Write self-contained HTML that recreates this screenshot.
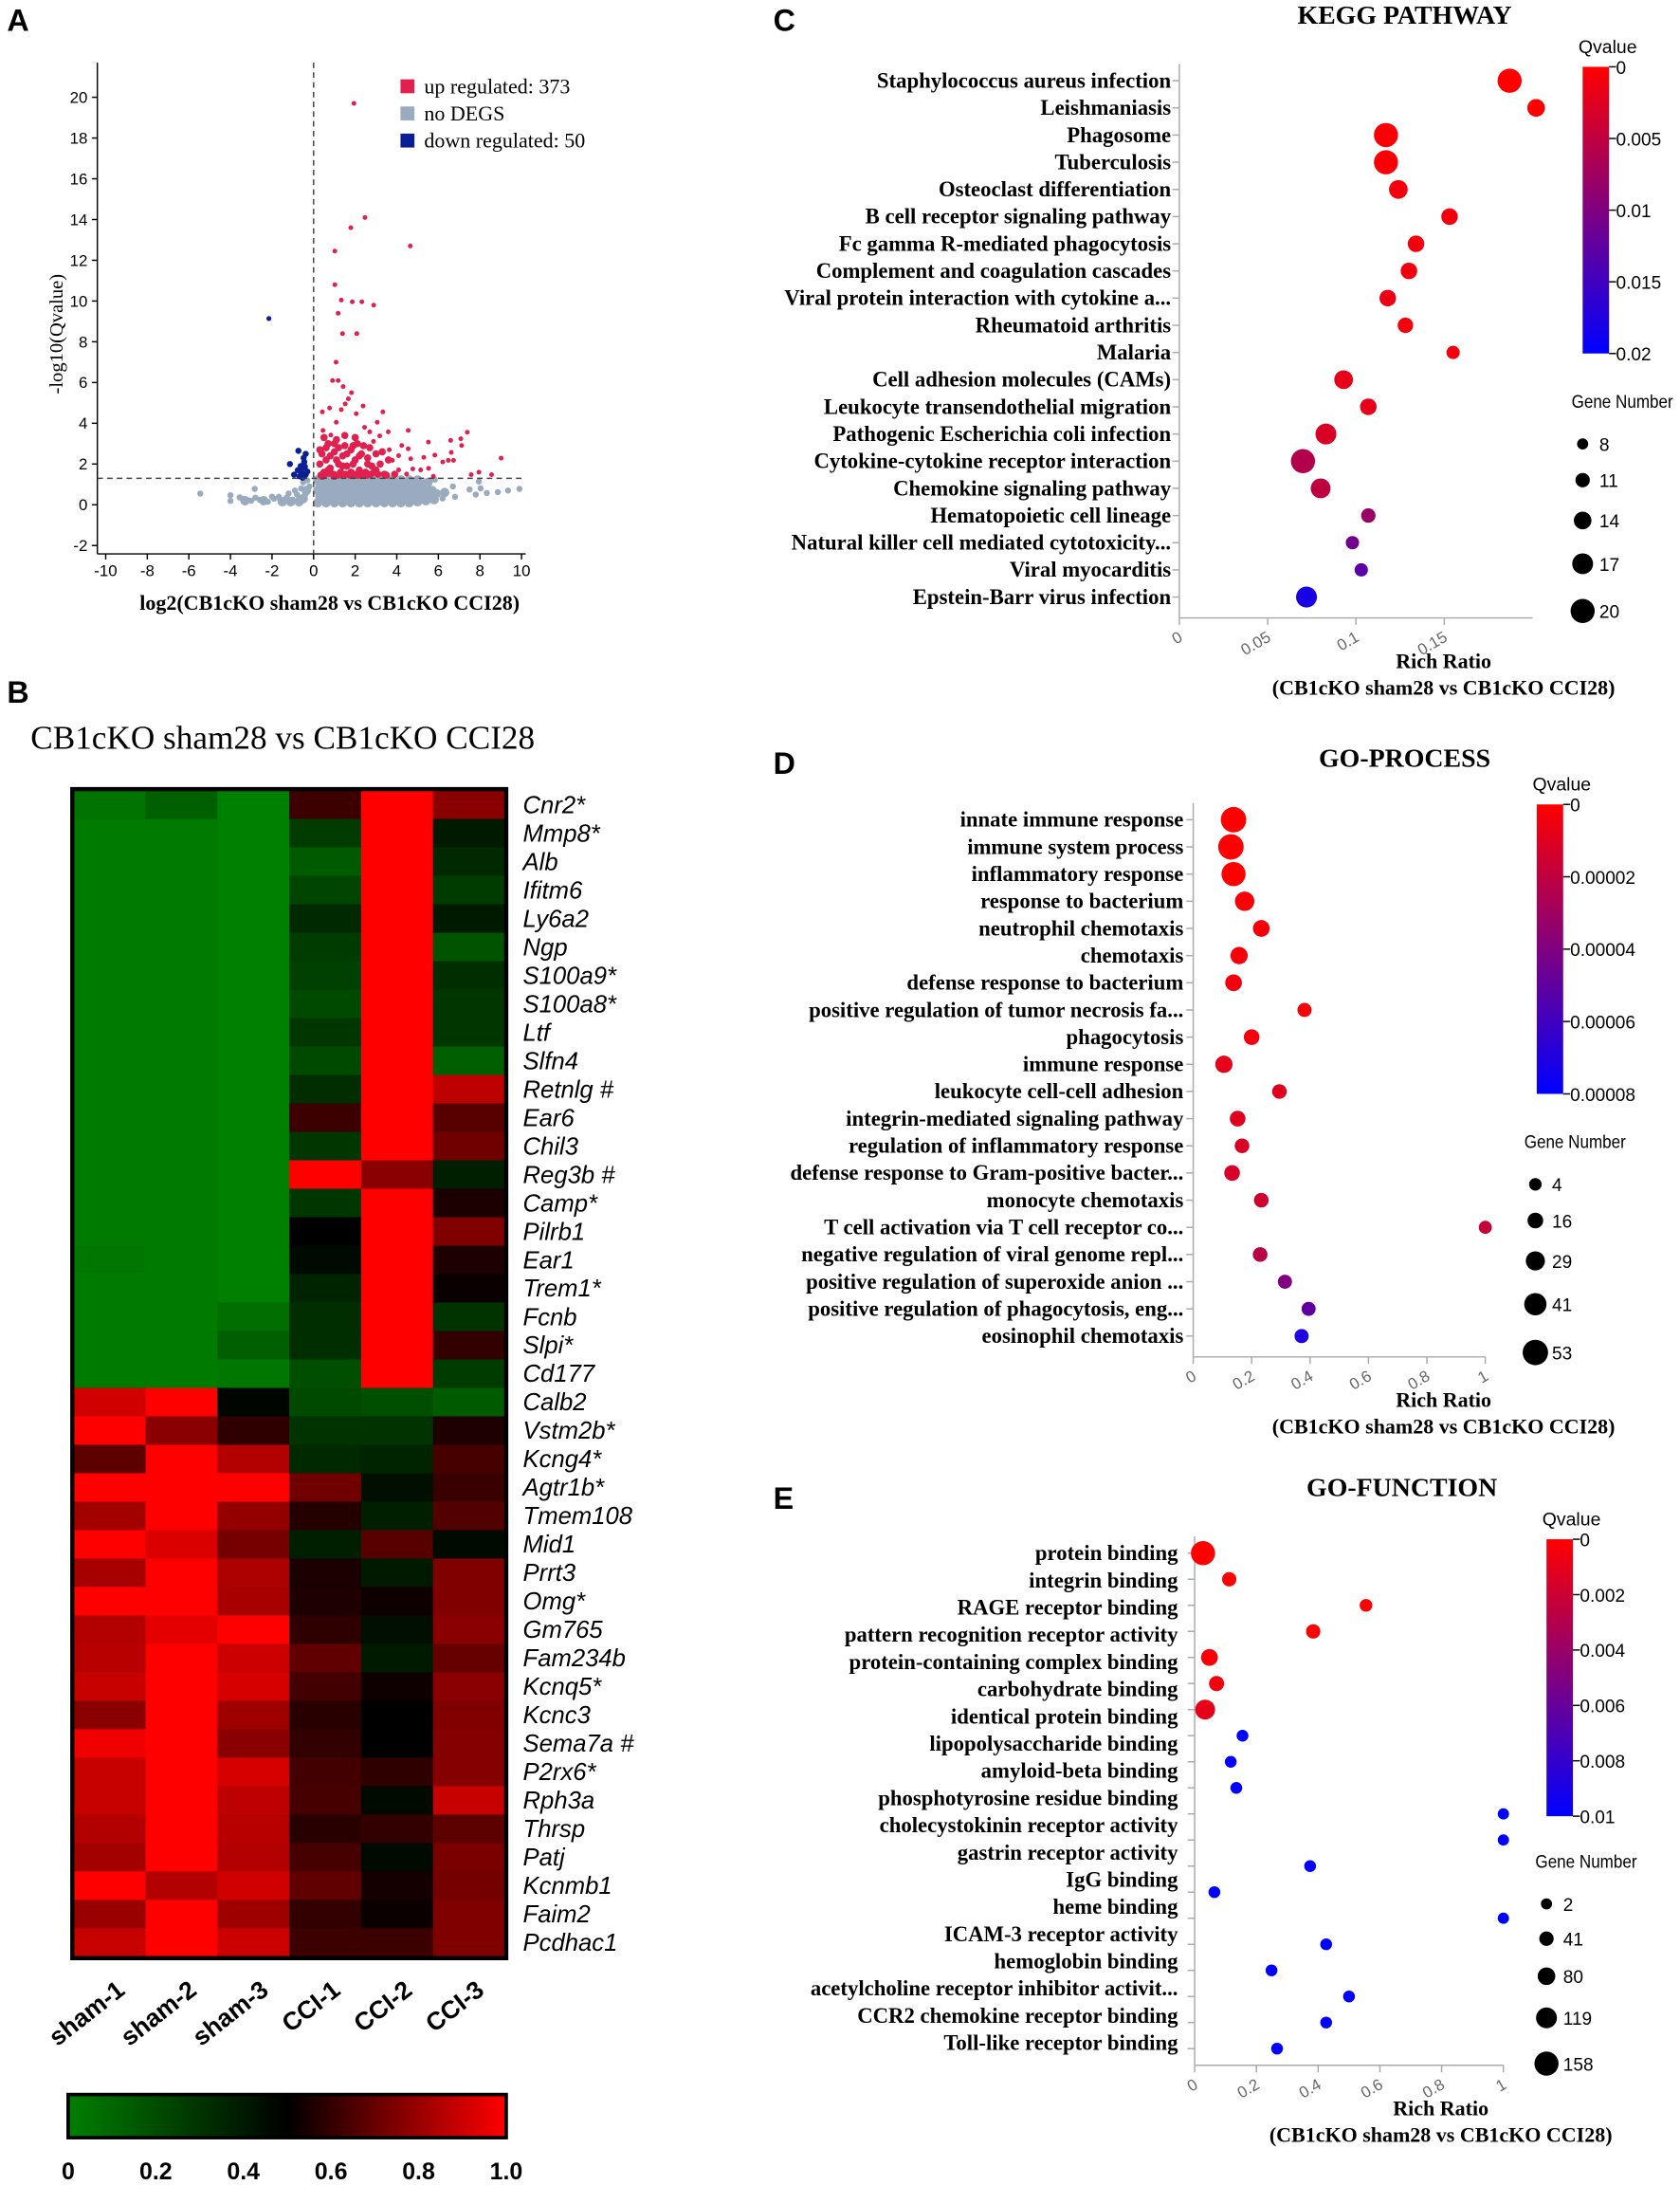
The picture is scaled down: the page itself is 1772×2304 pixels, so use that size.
<!DOCTYPE html>
<html><head><meta charset="utf-8"><style>
html,body{margin:0;padding:0;background:#fff;}
svg{display:block;}
</style></head><body>
<svg id="fig" xmlns="http://www.w3.org/2000/svg" width="1772" height="2304" viewBox="0 0 1208 1570" preserveAspectRatio="none">
<defs>
<linearGradient id="hmgrad" x1="0" x2="1" y1="0" y2="0"><stop offset="0" stop-color="#008000"/><stop offset="0.5" stop-color="#000"/><stop offset="1" stop-color="#ff0000"/></linearGradient>
<linearGradient id="qgrad" x1="0" x2="0" y1="0" y2="1"><stop offset="0" stop-color="#ff0000"/><stop offset="0.5" stop-color="#800080"/><stop offset="1" stop-color="#0000ff"/></linearGradient>
</defs>
<g id="root"></g>
</svg>
<script>
// ===== Panel A volcano data =====
const upX=[1.94,2.47,1.79,4.65,1.02,1.02,1.33,1.86,2.32,2.89,1.18,1.39,2.08,1.08,0.91,1.18,1.42,1.82,1.67,1.52,2.38,3.33,0.42,0.77,1.33,2.05,1.09,3.06,2.45,4.55,7.39,0.45,0.83,2.7,3.59,3.18,7.08,5.52,6.59,2.88,4.24,4.55,3.64,7.12,9.02,6.62,4.09,5.83,5.3,4.67,6.48,3.79,6.73,6.21,5.15,4.77,5.53,5.76,7.58,7.95,8.56,4.47,4.09,0.4,0.6,0.8,1.0,1.2,0.5,0.7,1.4,1.6,1.8,2.0,2.2,2.4,2.6,2.8,3.0,0.3,0.9,1.1,1.3,1.5,1.7,1.9,2.1,2.3,2.5,2.7,2.9,3.2,3.4,0.4,0.6,0.8,1.0,1.2,1.4,1.6,1.8,2.0,2.2,0.5,1.0,1.5,2.6,3.0,3.6,3.3,0.3,0.7,1.1,1.9,0.35,0.55,0.75,0.95,1.15,1.35,1.55,1.75,1.95,2.15,2.35,2.55,2.75,3.1,3.5,3.9];
const upY=[19.7,14.1,13.6,12.7,12.45,10.8,10.05,9.96,9.96,9.8,9.4,8.4,8.4,7.0,6.1,6.1,5.8,5.5,5.2,4.95,4.85,4.56,4.56,4.75,4.67,4.47,4.05,4.05,3.8,3.65,3.56,3.65,3.42,3.58,3.58,3.38,3.24,3.08,3.16,3.11,2.91,2.75,2.7,2.91,2.29,2.57,2.41,2.44,2.33,2.26,2.18,2.18,2.18,2.1,1.71,1.76,1.79,1.4,1.48,1.6,1.48,1.51,1.71,2.5,2.2,1.8,2.6,2.0,1.6,3.0,2.4,1.9,2.7,2.2,1.7,2.9,2.3,1.9,2.5,2.0,1.5,3.2,1.6,2.9,1.5,2.0,3.0,2.5,1.6,2.8,1.6,2.0,1.5,1.4,2.8,2.4,1.4,2.8,1.9,2.5,1.6,3.3,2.4,3.3,3.0,3.4,2.0,1.7,2.2,2.6,2.7,1.7,2.2,2.9,1.45,1.5,1.55,1.5,1.45,1.5,1.5,1.45,1.5,1.45,1.5,1.45,1.5,1.5,1.45,1.5];
const downX=[-2.15,-0.73,-0.38,-1.14,-0.94,-0.53,-0.45,-0.6,-0.38,-0.68,-0.48,-0.3,-0.76,-0.53,-0.42,-0.5,-0.62];
const downY=[9.14,2.65,2.5,2.0,1.48,1.8,2.1,1.63,1.48,1.4,2.3,1.63,1.7,1.33,1.87,1.5,1.9];
const greyX=[-5.45,-4.0,-4.0,-2.83,-3.56,-3.18,-2.27,-1.67,6.7,7.5,7.95,8.03,7.8,8.33,8.86,9.35,9.9,6.2,6.8,5.83,5.3,-3.4,-3.0,-2.6,-2.2,-1.9,-1.6,-1.3,-1.0,-0.8,-0.6,-0.5,-0.3,-0.7,-0.4,-0.2,-0.9,-1.2,-2.0,-2.8,
0.2,0.6,1.0,1.4,1.8,2.2,2.6,3.0,3.4,3.8,4.2,4.6,5.0,5.4,5.8,
0.3,0.7,1.1,1.5,1.9,2.3,2.7,3.1,3.5,3.9,4.3,4.7,5.1,5.5,5.9,6.3,
0.2,0.6,1.0,1.4,1.8,2.2,2.6,3.0,3.4,3.8,4.2,4.6,5.0,5.4,
0.3,0.7,1.1,1.5,1.9,2.3,2.7,3.1,3.5,3.9,4.3,4.7,5.1,5.5,
0.2,0.6,1.0,1.4,1.8,2.2,2.6,3.0,3.4,3.8,4.2,4.6,5.0,
0.4,0.8,1.2,1.6,2.0,2.4,2.8,3.2,3.6,4.0,4.4,4.8,5.2,5.6,
0.4,0.8,1.2,1.6,2.0,2.4,2.8,3.2,3.6,4.0,4.4,4.8,5.2,5.7,
0.4,0.8,1.2,1.6,2.0,2.4,2.8,3.2,3.6,4.0,4.4,4.8,5.3,
-0.5,-0.7,-1.5,-2.4,-3.3,-1.1,-0.35];
const greyY=[0.55,0.47,0.19,0.78,0.36,0.23,0.16,0.39,0.9,0.75,1.14,0.81,0.5,0.58,0.62,0.7,0.78,0.31,0.39,1.23,1.09,0.3,0.2,0.25,0.15,0.3,0.2,0.35,0.25,0.5,0.8,1.1,1.2,0.3,0.5,0.9,0.7,0.55,0.4,0.35,
0.1,0.1,0.1,0.1,0.1,0.1,0.1,0.1,0.1,0.1,0.1,0.1,0.15,0.2,0.25,
0.4,0.4,0.4,0.4,0.4,0.4,0.4,0.4,0.4,0.4,0.4,0.4,0.45,0.5,0.55,0.6,
0.7,0.7,0.7,0.7,0.7,0.7,0.7,0.7,0.7,0.7,0.7,0.7,0.75,0.85,
1.0,1.0,1.0,1.0,1.0,1.0,1.0,1.0,1.0,1.0,1.0,1.0,1.05,1.1,
1.22,1.22,1.22,1.22,1.22,1.22,1.22,1.22,1.22,1.22,1.22,1.22,1.22,
0.25,0.25,0.25,0.25,0.25,0.25,0.25,0.25,0.25,0.25,0.25,0.25,0.3,0.35,
0.55,0.55,0.55,0.55,0.55,0.55,0.55,0.55,0.55,0.55,0.55,0.55,0.6,0.7,
0.85,0.85,0.85,0.85,0.85,0.85,0.85,0.85,0.85,0.85,0.85,0.85,0.9,
0.3,0.15,0.15,0.2,0.2,0.15,0.7];
const volXTicks=[-10,-8,-6,-4,-2,0,2,4,6,8,10];
const volYTicks=[-2,0,2,4,6,8,10,12,14,16,18,20];

// ===== Panel B heatmap data =====
const genes=["Cnr2*","Mmp8*","Alb","Ifitm6","Ly6a2","Ngp","S100a9*","S100a8*","Ltf","Slfn4","Retnlg #","Ear6","Chil3","Reg3b #","Camp*","Pilrb1","Ear1","Trem1*","Fcnb","Slpi*","Cd177","Calb2","Vstm2b*","Kcng4*","Agtr1b*","Tmem108","Mid1","Prrt3","Omg*","Gm765","Fam234b","Kcnq5*","Kcnc3","Sema7a #","P2rx6*","Rph3a","Thrsp","Patj","Kcnmb1","Faim2","Pcdhac1"];
const samples=["sham-1","sham-2","sham-3","CCI-1","CCI-2","CCI-3"];
const sham1=[0.05,0.02,0.02,0.02,0.02,0.02,0.02,0.02,0.02,0.02,0.02,0.02,0.02,0.02,0.02,0.02,0.03,0.02,0.02,0.02,0.02,0.91,1,0.68,1,0.82,1,0.83,1,0.85,0.86,0.89,0.77,0.97,0.89,0.89,0.85,0.82,1,0.8,0.89];
const sham2=[0.13,0.02,0.02,0.02,0.02,0.02,0.02,0.02,0.02,0.02,0.02,0.02,0.02,0.02,0.02,0.02,0.02,0.02,0.02,0.02,0.02,1,0.77,1,1,1,0.93,1,1,0.95,1,1,1,1,1,1,1,1,0.85,1,1];
const sham3=[0,0,0,0,0,0,0,0,0,0,0,0,0,0,0,0,0,0,0.07,0.13,0.03,0.48,0.59,0.85,1,0.79,0.73,0.84,0.83,1,0.9,0.92,0.81,0.77,0.92,0.87,0.86,0.85,0.91,0.81,0.9];
const cci1=[0.62,0.27,0.15,0.23,0.34,0.27,0.25,0.21,0.29,0.21,0.32,0.62,0.29,1,0.29,0.5,0.46,0.36,0.32,0.32,0.19,0.21,0.3,0.34,0.72,0.57,0.38,0.55,0.56,0.59,0.69,0.63,0.58,0.6,0.63,0.64,0.58,0.64,0.69,0.6,0.62];
const cci2=[1,1,1,1,1,1,1,1,1,1,1,1,1,0.77,1,1,1,1,1,1,1,0.19,0.3,0.36,0.44,0.38,0.67,0.4,0.53,0.44,0.4,0.53,0.5,0.5,0.59,0.46,0.6,0.46,0.54,0.52,0.62];
const cci3=[0.77,0.4,0.34,0.27,0.4,0.17,0.32,0.29,0.29,0.13,0.87,0.67,0.72,0.38,0.55,0.75,0.56,0.52,0.3,0.6,0.27,0.15,0.56,0.64,0.61,0.66,0.46,0.75,0.75,0.77,0.7,0.77,0.75,0.76,0.76,0.89,0.68,0.74,0.73,0.75,0.75];
const hmTicks=["0","0.2","0.4","0.6","0.8","1.0"];

// ===== Panel C KEGG =====
const keggTerms=["Staphylococcus aureus infection","Leishmaniasis","Phagosome","Tuberculosis","Osteoclast differentiation","B cell receptor signaling pathway","Fc gamma R-mediated phagocytosis","Complement and coagulation cascades","Viral protein interaction with cytokine a...","Rheumatoid arthritis","Malaria","Cell adhesion molecules (CAMs)","Leukocyte transendothelial migration","Pathogenic Escherichia coli infection","Cytokine-cytokine receptor interaction","Chemokine signaling pathway","Hematopoietic cell lineage","Natural killer cell mediated cytotoxicity...","Viral myocarditis","Epstein-Barr virus infection"];
const keggRatio=[0.187,0.202,0.117,0.117,0.124,0.153,0.134,0.130,0.118,0.128,0.155,0.093,0.107,0.083,0.070,0.080,0.107,0.098,0.103,0.072];
const keggGenes=[20,14,20,20,15,13,13,13,13,12,10,15,13,17,20,16,11,10,10,17];
const keggQ=[0,0,0.0005,0.0005,0.001,0.001,0.001,0.001,0.0015,0.001,0.001,0.002,0.002,0.003,0.006,0.005,0.008,0.011,0.013,0.018];
const keggXTicks=["0","0.05","0.1","0.15"];
const keggQTicks=["0","0.005","0.01","0.015","0.02"];
const keggSizeTicks=[8,11,14,17,20];

// ===== Panel D GO-PROCESS =====
const procTerms=["innate immune response","immune system process","inflammatory response","response to bacterium","neutrophil chemotaxis","chemotaxis","defense response to bacterium","positive regulation of tumor necrosis fa...","phagocytosis","immune response","leukocyte cell-cell adhesion","integrin-mediated signaling pathway","regulation of inflammatory response","defense response to Gram-positive bacter...","monocyte chemotaxis","T cell activation via T cell receptor co...","negative regulation of viral genome repl...","positive regulation of superoxide anion ...","positive regulation of phagocytosis, eng...","eosinophil chemotaxis"];
const procRatio=[0.138,0.129,0.138,0.176,0.233,0.157,0.138,0.381,0.2,0.105,0.295,0.152,0.167,0.133,0.233,1.0,0.229,0.314,0.395,0.371];
const procGenes=[53,53,48,30,20,22,20,10,16,22,12,16,12,16,12,6,12,10,10,10];
const procQ=[0,0,0,0.000002,0.000003,0.000003,0.000004,0.000003,0.000004,0.000008,0.00001,0.00001,0.000012,0.000013,0.000015,0.000018,0.000022,0.00004,0.00005,0.00007];
const procXTicks=["0","0.2","0.4","0.6","0.8","1"];
const procQTicks=["0","0.00002","0.00004","0.00006","0.00008"];
const procSizeTicks=[4,16,29,41,53];

// ===== Panel E GO-FUNCTION =====
const funcTerms=["protein binding","integrin binding","RAGE receptor binding","pattern recognition receptor activity","protein-containing complex binding","carbohydrate binding","identical protein binding","lipopolysaccharide binding","amyloid-beta binding","phosphotyrosine residue binding","cholecystokinin receptor activity","gastrin receptor activity","IgG binding","heme binding","ICAM-3 receptor activity","hemoglobin binding","acetylcholine receptor inhibitor activit...","CCR2 chemokine receptor binding","Toll-like receptor binding"];
const funcRatio=[0.027,0.112,0.555,0.384,0.048,0.071,0.034,0.155,0.117,0.135,1,1,0.374,0.064,1,0.426,0.249,0.5,0.426,0.267];
const funcGenes=[158,40,20,40,70,50,107,10,10,10,4,4,10,10,4,10,10,10,10,10];
const funcQ=[0,0,0,0,0.0003,0.0005,0.001,0.01,0.01,0.01,0.01,0.01,0.01,0.01,0.01,0.01,0.01,0.01,0.01,0.01];
const funcXTicks=["0","0.2","0.4","0.6","0.8","1"];
const funcQTicks=["0","0.002","0.004","0.006","0.008","0.01"];
const funcSizeTicks=[2,41,80,119,158];

const NS="http://www.w3.org/2000/svg";
const root=document.getElementById('root');
function mk(tag,attrs,parent,text){const e=document.createElementNS(NS,tag);for(const k in attrs)e.setAttribute(k,attrs[k]);if(text!==undefined)e.textContent=text;(parent||root).appendChild(e);return e;}
function txt(x,y,s,size,opts,parent){opts=opts||{};const a={x:x,y:y,'font-size':size,'font-family':opts.fam||'"Liberation Serif",serif',fill:opts.fill||'#000'};if(opts.bold)a['font-weight']='bold';if(opts.italic)a['font-style']='italic';if(opts.anchor)a['text-anchor']=opts.anchor;if(opts.tr)a.transform=opts.tr;if(opts.len){a.textLength=opts.len;a.lengthAdjust='spacingAndGlyphs';}return mk('text',a,parent,s);}

[["A",5,22],["B",5,505],["C",556,22],["D",556,556],["E",556,1084]].forEach(p=>{
  const t=txt(p[1],p[2],p[0],22,{bold:true,fam:'"Liberation Sans",sans-serif'});
  
  
});

// ===== Volcano =====
(function(){
  const g=mk('g',{});
  
  
  const xS=v=>225.5+14.95*v, yS=v=>362.7-14.64*v;
  const L=70,B=398,R=378,T=45;
  mk('line',{x1:L,y1:T,x2:L,y2:B,stroke:'#000','stroke-width':1},g);
  mk('line',{x1:L,y1:B,x2:R,y2:B,stroke:'#000','stroke-width':1},g);
  volYTicks.forEach(v=>{mk('line',{x1:L-4,y1:yS(v),x2:L,y2:yS(v),stroke:'#000'},g);
    const t=txt(L-7,yS(v)+4,String(v),11.5,{fam:'"Liberation Sans",sans-serif',anchor:'end'},g);
    });
  volXTicks.forEach(v=>{mk('line',{x1:xS(v),y1:B,x2:xS(v),y2:B+4,stroke:'#000'},g);
    const t=txt(xS(v),B+16,String(v),11.5,{fam:'"Liberation Sans",sans-serif',anchor:'middle'},g);
    });
  greyX.forEach((x,i)=>{const c=mk('circle',{cx:xS(x),cy:yS(greyY[i]),r:i<40?2.2:3.4,fill:'#9aabbf'},g);
    });
  upX.forEach((x,i)=>{const c=mk('circle',{cx:xS(x),cy:yS(upY[i]),r:i<63?1.7:2.6,fill:'#e0204f'},g);
    });
  downX.forEach((x,i)=>{const c=mk('circle',{cx:xS(x),cy:yS(downY[i]),r:i?2.2:1.8,fill:'#0a1e96'},g);
    });
  mk('line',{x1:L,y1:yS(1.3),x2:R,y2:yS(1.3),stroke:'#444','stroke-dasharray':'4,3'},g);
  mk('line',{x1:xS(0),y1:T,x2:xS(0),y2:B,stroke:'#444','stroke-dasharray':'4,3'},g);
  const leg=[["#e0204f","up regulated: 373"],["#9aabbf","no DEGS"],["#0a1e96","down regulated: 50"]];
  leg.forEach((l,i)=>{mk('rect',{x:288,y:57+i*19.5,width:10,height:10,fill:l[0]},g);
    const t=txt(305,67+i*19.5,l[1],15,{},g);});
  const xt=txt(237,438,"log2(CB1cKO sham28 vs CB1cKO CCI28)",15,{bold:true,anchor:'middle'},g);
  
  const yt=txt(0,0,"-log10(Qvalue)",14,{anchor:'middle',tr:'translate(45,240) rotate(-90)'},g);
  
})();

// ===== Heatmap =====
(function(){
  const g=mk('g',{});
  
  
  const t=txt(22,538,"CB1cKO sham28 vs CB1cKO CCI28",24,{},g);
  
  const X0=53,Y0=568,W=310,H=838;
  const cw=W/6, rh=H/genes.length;
  const cols=[sham1,sham2,sham3,cci1,cci2,cci3];
  function col(v){if(v<0.5){const k=(0.5-v)/0.5;return 'rgb(0,'+Math.round(128*k)+',0)';}const k=(v-0.5)/0.5;return 'rgb('+Math.round(255*k)+',0,0)';}
  cols.forEach((arr,c)=>arr.forEach((v,r)=>{
    const rc=mk('rect',{x:X0+c*cw,y:Y0+r*rh,width:cw+0.5,height:rh+0.5,fill:col(v)},g);
    
  }));
  mk('rect',{x:X0-1,y:Y0-1,width:W+2,height:H+2,fill:'none',stroke:'#000','stroke-width':3},g);
  genes.forEach((s,r)=>{const l=txt(376,Y0+r*rh+rh/2+6,s,17.5,{italic:true,fam:'"Liberation Sans",sans-serif'},g);
    });
  samples.forEach((s,c)=>{const cx=X0+c*cw+cw/2+12;
    const l=txt(0,0,s,18,{bold:true,fam:'"Liberation Sans",sans-serif',anchor:'end',tr:'translate('+cx+',1432) rotate(-38)'},g);
    });
  const cb=mk('rect',{x:49,y:1505,width:315,height:31,fill:'url(#hmgrad)',stroke:'#000','stroke-width':2.5},g);
  
  hmTicks.forEach((s,i)=>{const l=txt(49+i*63,1566,s,17,{bold:true,fam:'"Liberation Sans",sans-serif',anchor:'middle'},g);
    });
})();

function qcol(q,qmax){const k=Math.min(1,q/qmax);return 'rgb('+Math.round(255*(1-k))+',0,'+Math.round(255*k)+')';}
function bubble(cfg){
  const g=mk('g',{});
  
  
  const xS=v=>cfg.x0+v*cfg.sc;
  const n=cfg.terms.length, nd=cfg.ratio.length;
  const rowY=i=>cfg.yTop+i*(cfg.yBot-cfg.yTop)/(n-1);
  const dotY=i=>cfg.yTop+i*(cfg.yBotDot-cfg.yTop)/(nd-1);
  const tt=txt(cfg.titleX,cfg.titleY,cfg.title,19,{bold:true,anchor:'middle'},g);
  
  mk('line',{x1:cfg.x0,y1:cfg.yTop-12,x2:cfg.x0,y2:cfg.axisY,stroke:'#aaa'},g);
  mk('line',{x1:cfg.x0,y1:cfg.axisY,x2:xS(cfg.xMax),y2:cfg.axisY,stroke:'#aaa'},g);
  for(let i=0;i<nd;i++)mk('line',{x1:cfg.x0-5,y1:dotY(i),x2:cfg.x0,y2:dotY(i),stroke:'#aaa'},g);
  cfg.xTicks.forEach(s=>{const v=parseFloat(s);const x=xS(v);
    mk('line',{x1:x,y1:cfg.axisY,x2:x,y2:cfg.axisY+5,stroke:'#aaa'},g);
    const l=txt(0,0,s,11.5,{fam:'"Liberation Sans",sans-serif',fill:'#666',anchor:'end',tr:'translate('+(x+3)+','+(cfg.axisY+16)+') rotate(-30)'},g);
    });
  cfg.terms.forEach((s,i)=>{const l=txt(cfg.labelX,rowY(i)+5,s,15.5,{bold:true,anchor:'end'},g);
    });
  cfg.ratio.forEach((v,i)=>{const c=mk('circle',{cx:xS(v),cy:dotY(i),r:cfg.rOf(cfg.genes[i]),fill:qcol(cfg.q[i],cfg.qMax)},g);
    });
  const xt=txt(cfg.titleX+28,cfg.axisY+36,"Rich Ratio",15,{bold:true,anchor:'middle'},g);
  
  const st=txt(cfg.titleX+28,cfg.axisY+55,"(CB1cKO sham28 vs CB1cKO CCI28)",15,{bold:true,anchor:'middle'},g);
  
  const qt=txt(cfg.cbX+18,cfg.cbY-10,"Qvalue",13.5,{fam:'"Liberation Sans",sans-serif',anchor:'middle',len:42},g);
  
  const cb=mk('rect',{x:cfg.cbX,y:cfg.cbY,width:19,height:cfg.cbH,fill:'url(#qgrad)'},g);
  
  cfg.qTicks.forEach((s,i)=>{const y=cfg.cbY+i*cfg.cbH/(cfg.qTicks.length-1);
    mk('line',{x1:cfg.cbX+19,y1:y,x2:cfg.cbX+24,y2:y,stroke:'#000'},g);
    const l=txt(cfg.cbX+24,y+5,s,13,{fam:'"Liberation Sans",sans-serif'},g);
    });
  const gt=txt(cfg.gX-8,cfg.gY,"Gene Number",13.5,{fam:'"Liberation Sans",sans-serif',len:73},g);
  
  cfg.sizeTicks.forEach((v,i)=>{const y=cfg.gY+26+i*cfg.gStep[i];
    const c=mk('circle',{cx:cfg.gX,cy:y,r:cfg.rOf(v),fill:'#000'},g);
    
    const l=txt(cfg.gX+12,y+5,String(v),13,{fam:'"Liberation Sans",sans-serif'},g);
    });
}
bubble({name:'kegg-pathway-chart',title:'KEGG PATHWAY',titleX:1010,titleY:17,terms:keggTerms,ratio:keggRatio,genes:keggGenes,q:keggQ,qMax:0.02,
  x0:848,sc:1270,xMax:0.2,yTop:58,yBot:429,yBotDot:429,axisY:444,labelX:842,xTicks:keggXTicks,
  rOf:n=>4+(n-8)*0.39,cbX:1138,cbY:48,cbH:206,qTicks:keggQTicks,gX:1138,gY:293,gStep:[0,26,27.5,28.7,30],sizeTicks:keggSizeTicks});
bubble({name:'go-process-chart',title:'GO-PROCESS',titleX:1010,titleY:551,terms:procTerms,ratio:procRatio,genes:procGenes,q:procQ,qMax:0.00008,
  x0:858,sc:210,xMax:1,yTop:589,yBot:960,yBotDot:960,axisY:975,labelX:851,xTicks:procXTicks,
  rOf:n=>4.5+(n-4)*0.095,cbX:1105,cbY:578,cbH:208,qTicks:procQTicks,gX:1104,gY:825,gStep:[0,26,27.5,28.7,30.2],sizeTicks:procSizeTicks});
bubble({name:'go-function-chart',title:'GO-FUNCTION',titleX:1008,titleY:1075,terms:funcTerms,ratio:funcRatio,genes:funcGenes,q:funcQ,qMax:0.01,
  x0:859,sc:222,xMax:1,yTop:1116,yBot:1468,yBotDot:1472,axisY:1484,labelX:847,xTicks:funcXTicks,
  rOf:n=>4+(n-2)*0.03,cbX:1112,cbY:1106,cbH:199,qTicks:funcQTicks,gX:1112,gY:1342,gStep:[0,25,26,27.3,28.7],sizeTicks:funcSizeTicks});
</script>
</body></html>
